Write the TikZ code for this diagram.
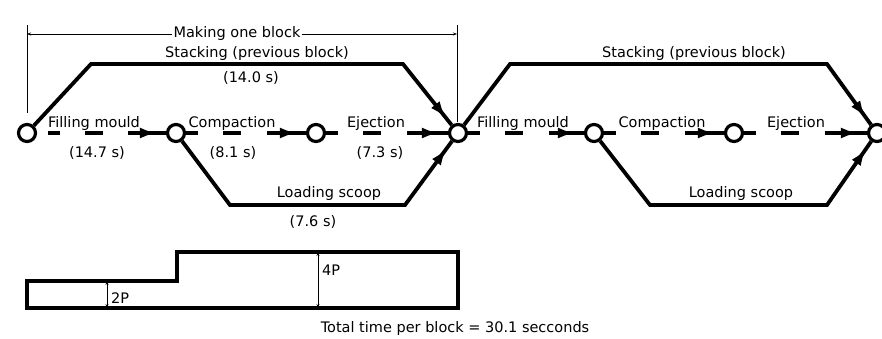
\documentclass[tikz,border=0pt]{standalone}
\usepackage{fontspec}
\setmainfont{DejaVu Sans}
\usetikzlibrary{arrows.meta,decorations.markings}
\begin{document}
\begin{tikzpicture}[x=1pt,y=-1pt,
  ev/.style={circle,draw,line width=3.2pt,minimum size=17pt,inner sep=0pt},
  lbl/.style={inner sep=0pt,anchor=base,font=\fontsize{14.5}{16}\selectfont},
  thk/.style={line width=3.8pt},
  arr/.style={postaction={decorate,solid},decoration={markings,mark=at position -9pt with {\arrow{Latex[length=17pt,width=11pt]}}}},
  act/.style={thk,arr},
  dsh/.style={thk,dash pattern=on 12pt off 25pt on 18pt off 26pt on 300pt,arr},
  thinline/.style={line width=0.8pt},
  dim/.style={thinline,{Stealth[length=4pt,width=3pt]}-{Stealth[length=4pt,width=3pt]}}
]
\useasboundingbox[fill=white] (0,0) rectangle (882,338);

% events
\node[ev] (c1) at (27,133) {};
\node[ev] (c2) at (176,133) {};
\node[ev] (c3) at (316,133) {};
\node[ev] (c4) at (458,133) {};
\node[ev] (c5) at (594,133) {};
\node[ev] (c6) at (734,133) {};
\node[ev] (c7) at (877,133) {};

% dimension "Making one block"
\coordinate (vl1) at (27,25);
\coordinate (vl2) at (27,113);
\coordinate (vr1) at (457,25);
\coordinate (vr2) at (457,122);
\coordinate (dl) at (27,34);
\coordinate (dr) at (457,34);
\draw[thinline] (vl1) -- (vl2);
\draw[thinline] (vr1) -- (vr2);
\draw[dim] (dl) -- (dr);
\node[lbl,fill=white,inner xsep=2pt,inner ysep=1pt] (mk) at (237,37) {Making one block};

% dashed activities
\draw[dsh,dash pattern=on 0pt off 11pt on 12pt off 25pt on 18pt off 25pt on 300pt] (c1) -- (c2);
\draw[dsh] (c2) -- (c3);
\draw[dsh] (c3) -- (c4);
\draw[dsh] (c4) -- (c5);
\draw[dsh] (c5) -- (c6);
\draw[dsh] (c6) -- (c7);

% stacking and loading
\draw[act] (c1) -- (91,64) -- (403,64) -- (c4);
\draw[act] (c2) -- (230,205) -- (405,205) -- (c4);
\draw[act] (c4) -- (510,64) -- (827,64) -- (c7);
\draw[act] (c5) -- (650,205) -- (827,205) -- (c7);

% labels
\node[lbl] (s1) at (257,57) {Stacking (previous block)};
\node[lbl] (s1t) at (251,82) {(14.0 s)};
\node[lbl] (f1) at (94,127) {Filling mould};
\node[lbl] (f1t) at (97,157) {(14.7 s)};
\node[lbl] (k1) at (232,127) {Compaction};
\node[lbl] (k1t) at (233,157) {(8.1 s)};
\node[lbl] (e1) at (376,127) {Ejection};
\node[lbl] (e1t) at (380,157) {(7.3 s)};
\node[lbl] (l1) at (329,197) {Loading scoop};
\node[lbl] (l1t) at (313,226) {(7.6 s)};

\node[lbl] (s2) at (694,57) {Stacking (previous block)};
\node[lbl] (f2) at (523,127) {Filling mould};
\node[lbl] (k2) at (662,127) {Compaction};
\node[lbl] (e2) at (796,127) {Ejection};
\node[lbl] (l2) at (741,197) {Loading scoop};

% power profile
\draw[line width=3.8pt] (27,281) -- (177,281) -- (177,252) -- (458,252) -- (458,308) -- (27,308) -- cycle;
\coordinate (p2a) at (107,281);
\coordinate (p2b) at (107,308);
\coordinate (p4a) at (318,252);
\coordinate (p4b) at (318,308);
\draw[dim] (p2a) -- (p2b);
\draw[dim] (p4a) -- (p4b);
\node[lbl,anchor=base west] (t2p) at (111,303) {2P};
\node[lbl,anchor=base west] (t4p) at (322,275) {4P};
\node[lbl] (tot) at (455,332) {Total time per block = 30.1 secconds};
\end{tikzpicture}
\end{document}
